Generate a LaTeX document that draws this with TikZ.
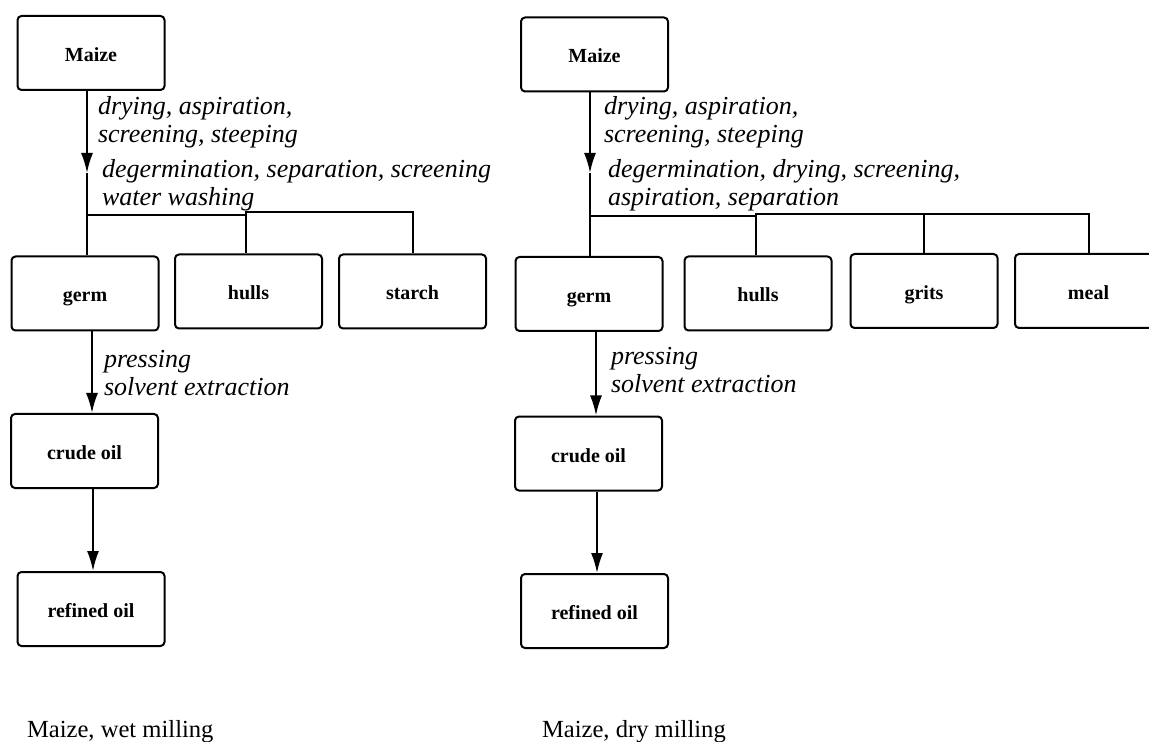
\documentclass[tikz,border=0pt]{standalone}
\usepackage{fontspec}
\setmainfont{Liberation Serif}
\usetikzlibrary{arrows.meta,positioning}

\begin{document}
\begin{tikzpicture}[x=0.5pt,y=-0.5pt,line width=1pt,>={Latex[length=10pt,width=6pt]},
    box/.style={rectangle,draw,rounded corners=2pt,minimum width=73.5pt,minimum height=37pt,inner sep=0pt,text height=8.5pt,text depth=0pt,font=\bfseries\fontsize{10}{12}\selectfont},
    proc/.style={anchor=base west,inner sep=0pt,align=left,font=\itshape\fontsize{13}{14}\selectfont},
    caption/.style={anchor=base west,inner sep=0pt,font=\fontsize{12.3}{14}\selectfont}]
    \useasboundingbox (0,0) rectangle (1149,742);
    % wet milling
    \node[box](maizeW) at (91,53){Maize};
    \node[box](germW) at (85,293.5){germ};
    \node[box](hullsW) at (248.5,291.5){hulls};
    \node[box](starchW) at (412.5,291.5){starch};
    \node[box](crudeW) at (84.5,451){crude oil};
    \node[box](refinedW) at (91,609){refined oil};
    \coordinate(tipW) at (87,173);
    \coordinate(forkW) at (87,215);
    \coordinate(stepW) at (246,212);
    \draw[->](maizeW.south -| tipW)--(tipW);
    \draw(tipW)--(germW.north -| tipW);
    \draw(forkW)--(forkW -| stepW)--(stepW)-|(starchW.north);
    \draw(stepW)--(hullsW.north -| stepW);
    \draw[->](germW.south -| 92,0)--(crudeW.north -| 92,0);
    \draw[->](crudeW.south -| 93,0)--(refinedW.north -| 93,0);
    % base anchor of two-line text sits on the second line
    \node[proc](stepsW) at (97,143){drying, aspiration,\\screening, steeping};
    \node[proc](splitW) at (101,206){degermination, separation, screening\\water washing};
    \node[proc](pressW) at (103,396){pressing\\solvent extraction};
    \node[caption](titleW) at (26,737){Maize, wet milling};
    % dry milling
    \node[box](maizeD) at (594.5,54.5){Maize};
    \node[box](germD) at (589,294){germ};
    \node[box](hullsD) at (758,293.5){hulls};
    \node[box](gritsD) at (924,291){grits};
    \node[box](mealD) at (1088.5,291){meal};
    \node[box](crudeD) at (588.5,453.5){crude oil};
    \node[box](refinedD) at (594.5,611){refined oil};
    \coordinate(tipD) at (590,173);
    \coordinate(forkD) at (590,216);
    \coordinate(stepD) at (756,214);
    \draw[->](maizeD.south -| tipD)--(tipD);
    \draw(tipD)--(germD.north -| tipD);
    \draw(forkD)--(forkD -| stepD)--(stepD)--(stepD -| mealD)--(mealD.north);
    \draw(stepD)--(hullsD.north -| stepD);
    \draw(gritsD.north)--(gritsD.north |- stepD);
    \draw[->](germD.south -| 596,0)--(crudeD.north -| 596,0);
    \draw[->](crudeD.south -| 597,0)--(refinedD.north -| 597,0);
    \node[proc](stepsD) at (603,143){drying, aspiration,\\screening, steeping};
    \node[proc](splitD) at (607,206){degermination, drying, screening,\\aspiration, separation};
    \node[proc](pressD) at (610,393){pressing\\solvent extraction};
    \node[caption](titleD) at (541,737){Maize, dry milling};
\end{tikzpicture}
\end{document}
